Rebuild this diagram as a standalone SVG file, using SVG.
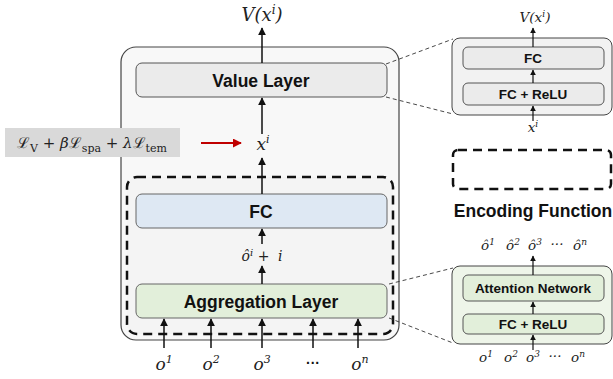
<svg xmlns="http://www.w3.org/2000/svg" width="613" height="379" viewBox="0 0 613 379">
<defs>
<marker id="ah" viewBox="0 0 10 10" refX="9" refY="5" markerWidth="8" markerHeight="8" markerUnits="userSpaceOnUse" orient="auto"><path d="M0,0 L10,5 L0,10 z" fill="#111"/></marker>
<marker id="ahs" viewBox="0 0 10 10" refX="9" refY="5" markerWidth="6" markerHeight="6" markerUnits="userSpaceOnUse" orient="auto"><path d="M0,0 L10,5 L0,10 z" fill="#111"/></marker>
<marker id="ahr" viewBox="0 0 10 10" refX="9" refY="5" markerWidth="9" markerHeight="9" markerUnits="userSpaceOnUse" orient="auto"><path d="M0,0 L10,5 L0,10 z" fill="#c00000"/></marker>
<style>
.lbl{font-family:"Liberation Sans",Arial,sans-serif;font-weight:bold;fill:#111;text-anchor:middle}
.m{font-family:"DejaVu Serif","Liberation Serif",serif;font-style:italic;fill:#222;text-anchor:middle}
.s{font-family:"DejaVu Serif","Liberation Serif",serif;font-style:italic;fill:#222;text-anchor:middle;font-size:13.5px}
.ar{stroke:#111;stroke-width:1.5;fill:none;marker-end:url(#ah)}
.ars{stroke:#111;stroke-width:1.2;fill:none;marker-end:url(#ahs)}
.dot{stroke:#333;stroke-width:0.9;stroke-dasharray:4,3;fill:none}
</style>
</defs>
<g id="outer"><rect x="121" y="47" width="278" height="293" rx="15" fill="#f8f8f8" stroke="#444" stroke-width="1.2"/></g>
<g id="encoder-dashed"><rect x="127" y="177" width="266" height="157" rx="10" fill="#f4f4f4" stroke="#111" stroke-width="2.5" stroke-dasharray="9,6"/></g>
<g id="value-layer"><rect x="136" y="63" width="251" height="34" rx="6" fill="#ebebeb" stroke="#555" stroke-width="1"/><text class="lbl" x="261" y="87" font-size="17.5">Value Layer</text></g>
<g id="fc"><rect x="136" y="194" width="251" height="34" rx="6" fill="#dee8f3" stroke="#666" stroke-width="1"/><text class="lbl" x="261" y="218" font-size="17.5">FC</text></g>
<g id="aggregation"><rect x="136" y="284" width="251" height="34" rx="6" fill="#e2efda" stroke="#666" stroke-width="1"/><text class="lbl" x="261" y="308" font-size="17.5">Aggregation Layer</text></g>
<g id="loss"><rect x="5" y="128" width="175" height="29" fill="#d9d9d9"/>
<text x="92" y="148" font-family="DejaVu Serif,'Liberation Serif',serif" font-size="15" fill="#222" text-anchor="middle">ℒ<tspan font-size="11" dy="4">V</tspan><tspan dy="-4"> + </tspan><tspan font-style="italic">β</tspan>ℒ<tspan font-size="11" dy="4">spa</tspan><tspan dy="-4"> + </tspan><tspan font-style="italic">λ</tspan>ℒ<tspan font-size="11" dy="4">tem</tspan></text></g>
<g id="labels">
<text class="m" x="262" y="21" font-size="18">V(x<tspan font-size="12" dy="-7">i</tspan><tspan dy="7">)</tspan></text>
<text class="m" x="263" y="150" font-size="17">x<tspan font-size="11" dy="-7">i</tspan></text>
<text class="m" x="262" y="261" font-size="14" fill="#444">ô<tspan font-size="10" dy="-5">i</tspan><tspan dy="5"> + </tspan><tspan dx="4">i</tspan></text>
<text class="m" x="164" y="370" font-size="17">o<tspan font-size="11" dy="-7">1</tspan></text>
<text class="m" x="211" y="370" font-size="17">o<tspan font-size="11" dy="-7">2</tspan></text>
<text class="m" x="262" y="370" font-size="17">o<tspan font-size="11" dy="-7">3</tspan></text>
<text class="lbl" x="313" y="368" font-size="14">···</text>
<text class="m" x="360" y="370" font-size="17">o<tspan font-size="11" dy="-7">n</tspan></text>
</g>
<g id="value-detail"><rect x="452" y="38" width="160" height="77" rx="8" fill="#f2f2f2" stroke="#444" stroke-width="1"/>
<rect x="463" y="47" width="141" height="22" rx="5" fill="#ebebeb" stroke="#555" stroke-width="1"/><text class="lbl" x="533" y="63" font-size="13.5">FC</text>
<rect x="463" y="83" width="141" height="22" rx="5" fill="#ebebeb" stroke="#555" stroke-width="1"/><text class="lbl" x="533" y="99" font-size="13.5">FC + ReLU</text>
<text class="m" x="535" y="22" font-size="13.5">V(x<tspan font-size="9" dy="-5">i</tspan><tspan dy="5">)</tspan></text>
<text class="m" x="533" y="132" font-size="13.5">x<tspan font-size="9" dy="-5">i</tspan></text></g>
<g id="encoding-function"><rect x="453" y="150" width="158" height="39" rx="5" fill="none" stroke="#111" stroke-width="2.5" stroke-dasharray="9,6"/><text class="lbl" x="533" y="217" font-size="17.5">Encoding Function</text></g>
<g id="encoder-detail"><rect x="452" y="266" width="160" height="78" rx="8" fill="#eef5e9" stroke="#444" stroke-width="1"/>
<rect x="463" y="275" width="141" height="26" rx="5" fill="#e2efda" stroke="#555" stroke-width="1"/><text class="lbl" x="533" y="293" font-size="13.5">Attention Network</text>
<rect x="463" y="314" width="141" height="20" rx="5" fill="#e2efda" stroke="#555" stroke-width="1"/><text class="lbl" x="533" y="329" font-size="13.5">FC + ReLU</text>
<text class="s" x="488" y="250">ô<tspan font-size="9" dy="-5">1</tspan></text>
<text class="s" x="513" y="250">ô<tspan font-size="9" dy="-5">2</tspan></text>
<text class="s" x="535" y="250">ô<tspan font-size="9" dy="-5">3</tspan></text>
<text class="s" x="557" y="249" font-style="normal">···</text>
<text class="s" x="580" y="250">ô<tspan font-size="9" dy="-5">n</tspan></text>
<text class="s" x="486" y="362">o<tspan font-size="9" dy="-5">1</tspan></text>
<text class="s" x="511" y="362">o<tspan font-size="9" dy="-5">2</tspan></text>
<text class="s" x="533" y="362">o<tspan font-size="9" dy="-5">3</tspan></text>
<text class="s" x="555" y="361" font-style="normal">···</text>
<text class="s" x="578" y="362">o<tspan font-size="9" dy="-5">n</tspan></text></g>
<g id="connectors">
<line class="ar" x1="262" y1="63" x2="262" y2="28"/>
<line class="ar" x1="262" y1="134" x2="262" y2="98"/>
<line class="ar" x1="262" y1="194" x2="262" y2="158"/>
<line class="ar" x1="262" y1="244" x2="262" y2="229"/>
<line class="ar" x1="262" y1="284" x2="262" y2="266"/>
<line class="ar" x1="164" y1="348" x2="164" y2="319"/>
<line class="ar" x1="211" y1="348" x2="211" y2="319"/>
<line class="ar" x1="262" y1="348" x2="262" y2="319"/>
<line class="ar" x1="313" y1="348" x2="313" y2="319"/>
<line class="ar" x1="358" y1="348" x2="358" y2="319"/>
<line x1="201" y1="143" x2="241" y2="143" stroke="#c00000" stroke-width="1.8" marker-end="url(#ahr)"/>
<line class="ars" x1="533" y1="47" x2="533" y2="28"/>
<line class="ars" x1="533" y1="83" x2="533" y2="70"/>
<line class="ars" x1="533" y1="121" x2="533" y2="106"/>
<line class="ars" x1="533" y1="275" x2="533" y2="256"/>
<line class="ars" x1="533" y1="314" x2="533" y2="302"/>
<line class="ars" x1="533" y1="350" x2="533" y2="335"/>
<line class="dot" x1="386" y1="64" x2="453" y2="39"/>
<line class="dot" x1="386" y1="97" x2="453" y2="114"/>
<line class="dot" x1="389" y1="284" x2="453" y2="268"/>
<line class="dot" x1="389" y1="318" x2="453" y2="343"/>
</g>
</svg>
